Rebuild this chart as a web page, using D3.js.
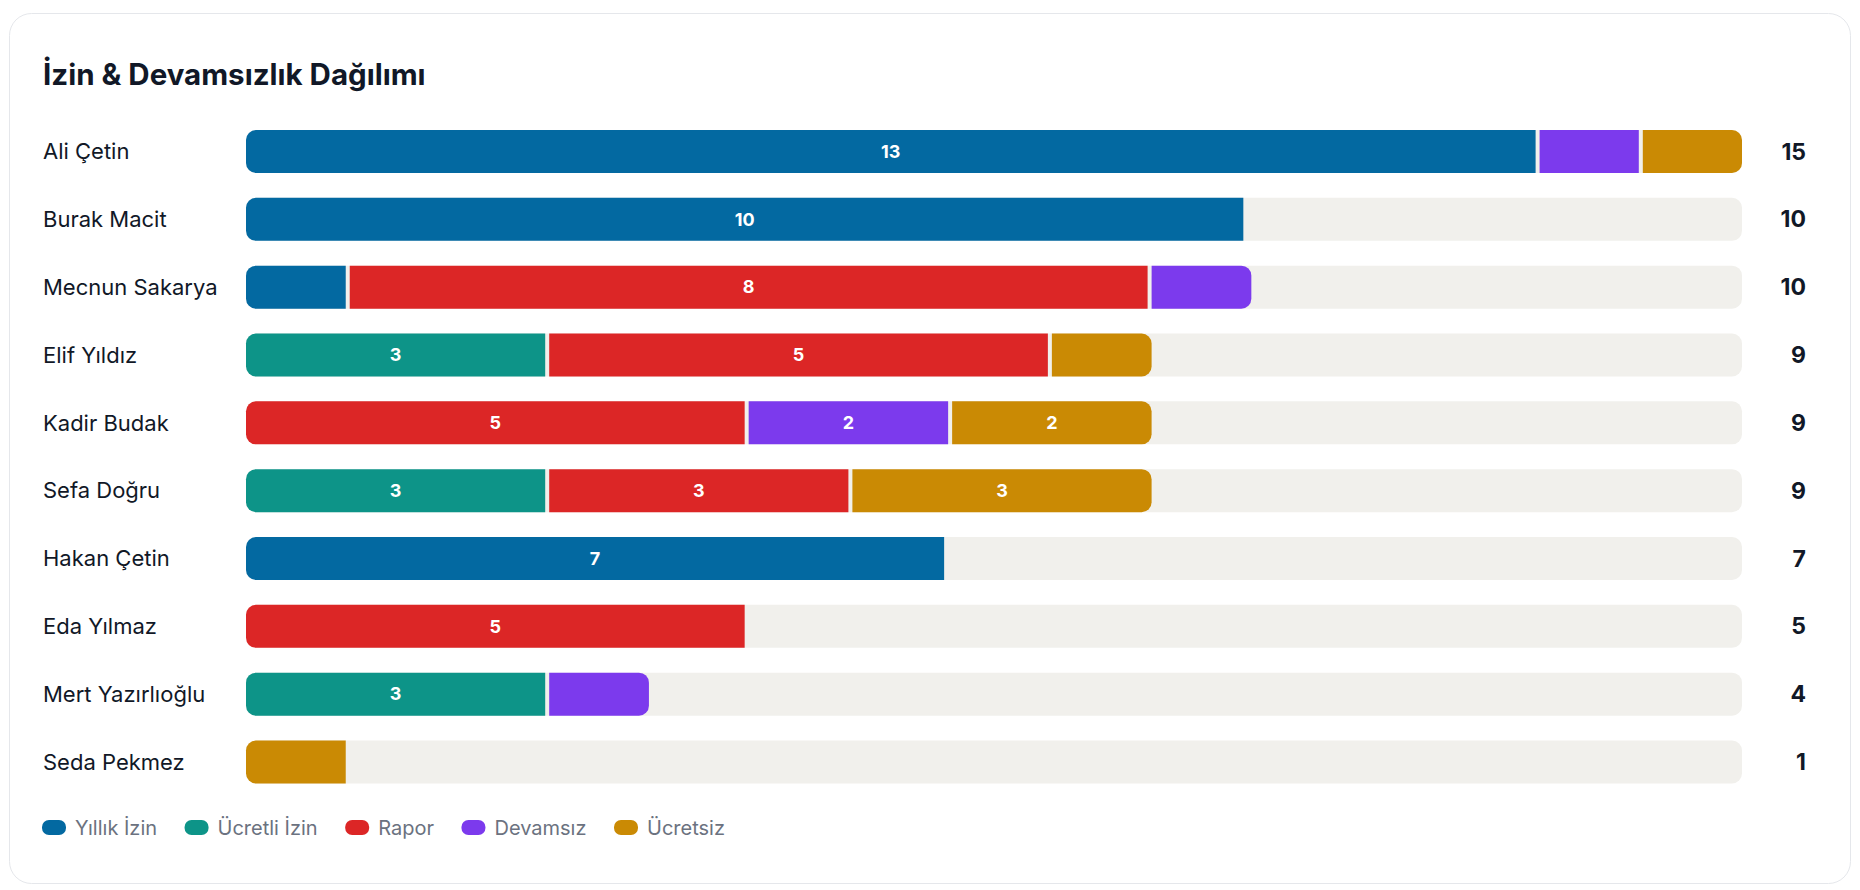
<!DOCTYPE html>
<html>
<head>
<meta charset="utf-8">
<script src="https://cdn.jsdelivr.net/npm/d3@7"></script>
<style>
  html, body { margin: 0; padding: 0; background: #fff; }
  svg { display: block; font-family: Inter, "Noto Sans", sans-serif; }
</style>
</head>
<body>
<svg id="chart" width="1860" height="890"></svg>
<script>
// data
const names = ['Ali Çetin', 'Burak Macit', 'Mecnun Sakarya', 'Elif Yıldız', 'Kadir Budak',
               'Sefa Doğru', 'Hakan Çetin', 'Eda Yılmaz', 'Mert Yazırlıoğlu', 'Seda Pekmez']
const categories = ['Yıllık İzin', 'Ücretli İzin', 'Rapor', 'Devamsız', 'Ücretsiz']
const yillik   = [13, 10, 1, 0, 0, 0, 7, 0, 0, 0]
const ucretli  = [0, 0, 0, 3, 0, 3, 0, 0, 3, 0]
const rapor    = [0, 0, 8, 5, 5, 3, 0, 5, 0, 0]
const devamsiz = [1, 0, 1, 0, 2, 0, 0, 0, 1, 0]
const ucretsiz = [1, 0, 0, 1, 2, 3, 0, 0, 0, 1]
const colors = ['#0369a1', '#0d9488', '#dc2626', '#7c3aed', '#ca8a04']

const series = [yillik, ucretli, rapor, devamsiz, ucretsiz]
const rows = names.map((name, i) => {
    const vals = series.map(s => s[i])
    return { name, vals, total: d3.sum(vals) }
})

const chart = {}
chart.svg = d3.select('#chart')
chart.left = 246
chart.right = 1742
chart.barH = 43
chart.pitch = 65.5
chart.gap = 4
chart.r = 10

chart.x = d3.scaleLinear()
    .domain([0, d3.max(rows, d => d.total)])
    .range([chart.left, chart.right])
chart.y = d3.scaleBand()
    .domain(names)
    .range([130, 130 + chart.pitch * names.length])
    .paddingInner((chart.pitch - chart.barH) / chart.pitch)
    .paddingOuter(0)
    .align(0)
chart.color = d3.scaleOrdinal().domain(categories).range(colors)

// rect path with separate left / right corner radius
function roundRect(x, y, w, h, rl, rr) {
    const p = d3.path()
    p.moveTo(x + rl, y)
    p.lineTo(x + w - rr, y)
    if (rr) p.arcTo(x + w, y, x + w, y + rr, rr)
    p.lineTo(x + w, y + h - rr)
    if (rr) p.arcTo(x + w, y + h, x + w - rr, y + h, rr)
    p.lineTo(x + rl, y + h)
    if (rl) p.arcTo(x, y + h, x, y + h - rl, rl)
    p.lineTo(x, y + rl)
    if (rl) p.arcTo(x, y, x + rl, y, rl)
    p.closePath()
    return p.toString()
}

// card
chart.svg.append('rect')
    .attr('x', 9.5).attr('y', 13.5)
    .attr('width', 1841).attr('height', 870)
    .attr('rx', 22)
    .attr('fill', '#fff')
    .attr('stroke', '#e5e7eb')

chart.svg.append('text')
    .attr('x', 43).attr('y', 85)
    .attr('font-size', 29.5).attr('font-weight', 700)
    .attr('fill', '#111827')
    .text('İzin & Devamsızlık Dağılımı')

const row = chart.svg.selectAll('g.row')
    .data(rows)
    .join('g')
    .attr('class', 'row')
    .attr('transform', d => `translate(0,${chart.y(d.name)})`)

row.append('text')
    .attr('x', 43).attr('y', chart.barH / 2)
    .attr('dy', '0.35em')
    .attr('font-size', 22)
    .attr('fill', '#111827')
    .text(d => d.name)

row.append('rect')
    .attr('x', chart.left).attr('width', chart.right - chart.left)
    .attr('height', chart.barH)
    .attr('rx', chart.r)
    .attr('fill', '#f1f0ec')

row.append('text')
    .attr('x', 1806).attr('y', chart.barH / 2)
    .attr('dy', '0.35em')
    .attr('text-anchor', 'end')
    .attr('font-size', 23).attr('font-weight', 700)
    .attr('fill', '#111827')
    .text(d => d.total)

row.each(function(d) {
    const g = d3.select(this)
    const segs = d.vals.map((v, k) => ({ k, v })).filter(s => s.v > 0)
    // segments keep their full width and sit 4px apart; a row that would
    // run past the track is shrunk to fit (like a flex row)
    const gaps = chart.gap * (segs.length - 1)
    const natural = chart.x(d.total) - chart.x(0)
    const k = Math.min(1, (chart.right - chart.left - gaps) / natural)
    let pos = chart.left
    segs.forEach((s, i) => {
        const first = i === 0, last = i === segs.length - 1
        const w = (chart.x(s.v) - chart.x(0)) * k
        g.append('path')
            .attr('d', roundRect(pos, 0, w, chart.barH,
                first ? chart.r : 0, (last && segs.length > 1) ? chart.r : 0))
            .attr('fill', chart.color(categories[s.k]))
        if (s.v >= 2) {
            g.append('text')
                .attr('x', pos + w / 2).attr('y', chart.barH / 2)
                .attr('dy', '0.35em')
                .attr('text-anchor', 'middle')
                .attr('font-size', 18).attr('font-weight', 700)
                .attr('fill', '#fff')
                .text(s.v)
        }
        pos += w + chart.gap
    })
})

// legend
const legend = chart.svg.append('g').attr('transform', 'translate(42,820)')
let lx = 0
categories.forEach(c => {
    const item = legend.append('g').attr('transform', `translate(${lx},0)`)
    item.append('rect')
        .attr('width', 24).attr('height', 15).attr('rx', 7)
        .attr('fill', chart.color(c))
    const t = item.append('text')
        .attr('x', 33).attr('y', 7.5).attr('dy', '0.35em')
        .attr('font-size', 20)
        .attr('fill', '#6b7280')
        .text(c)
    lx += 33 + t.node().getComputedTextLength() + 27.5
})
</script>
</body>
</html>
